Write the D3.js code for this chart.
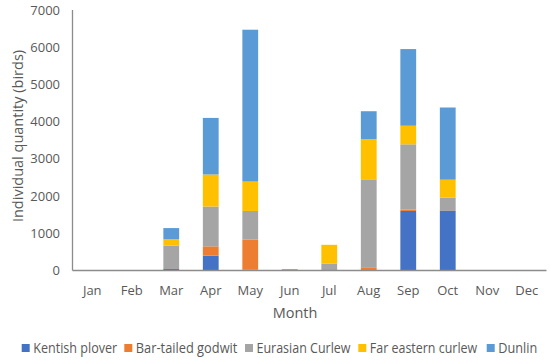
<!DOCTYPE html>
<html><head><meta charset="utf-8">
<script src="https://cdn.jsdelivr.net/npm/d3@7"></script>
<style>body{margin:0;background:#fff}svg{display:block}text{font-family:"Open Sans","Noto Sans",sans-serif;fill:#595959}</style>
</head><body><svg id="c" width="550" height="364"></svg>
<script>
const months = ["Jan","Feb","Mar","Apr","May","Jun","Jul","Aug","Sep","Oct","Nov","Dec"];
const seriesNames = ["Kentish plover","Bar-tailed godwit","Eurasian Curlew","Far eastern curlew","Dunlin"];
const colors = ["#4472C4","#ED7D31","#A5A5A5","#FFC000","#5B9BD5"];
const kentish   = [0,0,40,400,20,30,0,0,1600,1600,0,0];
const barTailed = [0,0,0,250,810,0,0,70,40,0,0,0];
const eurasian  = [0,0,630,1070,770,0,180,2380,1750,360,0,0];
const farEastern= [0,0,170,860,790,10,510,1080,500,480,0,0];
const dunlin    = [0,0,300,1520,4080,0,0,750,2060,1940,0,0];
const yTicks = [0,1000,2000,3000,4000,5000,6000,7000];

const rows = months.map((m,i)=>({month:m,"Kentish plover":kentish[i],"Bar-tailed godwit":barTailed[i],"Eurasian Curlew":eurasian[i],"Far eastern curlew":farEastern[i],"Dunlin":dunlin[i]}));
const svg = d3.select("#c");
const L=72.5,R=546.5,T=10,B=270.5;
const x = d3.scaleBand().domain(months).range([L,R]).paddingInner(0.6).paddingOuter(0.3);
const y = d3.scaleLinear().domain([0,7000]).range([B,T]);
const stack = d3.stack().keys(seriesNames)(rows);
svg.append("g").selectAll("g").data(stack).join("g").attr("fill",(d,i)=>colors[i])
  .selectAll("rect").data(d=>d).join("rect")
  .attr("x",d=>x(d.data.month)).attr("width",x.bandwidth())
  .attr("y",d=>y(d[1])).attr("height",d=>y(d[0])-y(d[1]));
// axes
svg.append("line").attr("x1",L).attr("x2",L).attr("y1",T).attr("y2",B).attr("stroke","#8c8c8c").attr("stroke-width",1.3);
svg.append("line").attr("x1",L).attr("x2",R).attr("y1",B).attr("y2",B).attr("stroke","#8c8c8c").attr("stroke-width",1.3);
svg.append("g").selectAll("text").data(yTicks).join("text")
  .attr("x",60).attr("y",d=>y(d)).attr("dy","0.35em").attr("text-anchor","end").attr("font-size",13).text(d=>d);
svg.append("g").selectAll("text").data(months).join("text")
  .attr("x",d=>x(d)+x.bandwidth()/2).attr("y",290).attr("dy","0.35em").attr("text-anchor","middle").attr("font-size",13).text(d=>d);
svg.append("text").attr("transform","translate(18,136) rotate(-90)").attr("text-anchor","middle").attr("dy","0.35em").attr("font-size",14.5).text("Individual quantity (birds)");
svg.append("text").attr("x",295).attr("y",313).attr("dy","0.35em").attr("text-anchor","middle").attr("font-size",14.5).text("Month");
const legX=[21.7,124.3,245,358.3,486.7];
const legW=[84,101.6,94,107.4,39];
const lg = svg.append("g").selectAll("g").data(seriesNames).join("g").attr("transform",(d,i)=>`translate(${legX[i]},348)`);
lg.append("rect").attr("x",0).attr("y",-4).attr("width",8).attr("height",8).attr("fill",(d,i)=>colors[i]);
lg.append("text").attr("x",11.5).attr("dy","0.35em").attr("font-size",14).attr("textLength",(d,i)=>legW[i]).attr("lengthAdjust","spacingAndGlyphs").text(d=>d);
</script></body></html>
